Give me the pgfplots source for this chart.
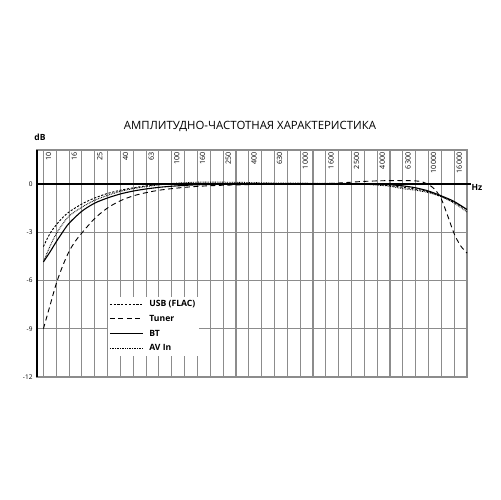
\documentclass[border=0pt]{standalone}
\usepackage{fontspec}
\setmainfont{Open Sans}
\usepackage{pgfplots}
\pgfplotsset{compat=1.18}
\begin{document}
\begin{tikzpicture}[x=1bp,y=1bp]
\path[use as bounding box] (0,0) rectangle (500,500);
\begin{axis}[
  at={(37bp,123bp)}, anchor=south west,
  scale only axis, width=430bp, height=227bp,
  xmin=-0.5, xmax=33, ymin=-12, ymax=2.1,
  xtick={0,...,33}, xticklabels={},
  ytick={-12,-9,-6,-3,0},
  yticklabel style={font=\fontsize{6.5bp}{7bp}\selectfont, xshift=-1bp},
  /pgf/number format/assume math mode=true,
  major tick length=0pt,
  xmajorgrids, ymajorgrids,
  grid style={draw=gray!90, line width=1.1bp},
  axis line style={draw=gray!90, line width=1.1bp},
  clip=false,
  legend cell align=left,
  legend style={at={(axis cs:5.0,-7.0)}, anchor=north west, draw=none, fill=white,
    font=\bfseries\fontsize{8.6bp}{9bp}\selectfont, inner sep=1.5bp, row sep=3.2bp},
  legend image code/.code={\draw[#1] (0bp,0bp) -- (33bp,0bp); \path (37bp,0bp);},
]
\draw[black, line width=1.7bp] (axis cs:-0.5,-12) -- (axis cs:-0.5,2.1);
\draw[black, line width=1.7bp] (axis cs:-0.5,0) -- (axis cs:33.3,0);
\foreach \i/\f in {0/10,2/16,4/25,6/40,8/63,10/100,12/160,14/250,16/400,18/630,20/1000,22/1600,24/2500,26/4000,28/6300,30/10000,32/16000}{
  \edef\tmp{\noexpand\node[rotate=90, anchor=east, inner sep=0pt, font=\noexpand\fontsize{7.2bp}{8bp}\noexpand\selectfont] at (axis cs:\i+0.4,1.95) {\f};}
  \tmp
}
\addplot[black, line width=0.9bp, dash pattern=on 2.2bp off 1.6bp, smooth, tension=0.5] coordinates {
(0,-3.9) (0.5,-3.1) (1,-2.55) (1.5,-2.1) (2,-1.75) (3,-1.25) (4,-0.88) (5,-0.6) (6,-0.4) (7,-0.25) (8,-0.13) (9,-0.05) (10,0.0) (12,0.03) (14,0.03) (16,0.02) (18,0.02) (20,0.02) (22,0.02) (24,0.0) (26,-0.05) (27,-0.12) (28,-0.22) (29,-0.33) (30,-0.5) (31,-0.8) (32,-1.15) (33,-1.6)};
\addlegendentry{USB (FLAC)}
\addplot[black, line width=0.9bp, dash pattern=on 5bp off 3.5bp, smooth, tension=0.5] coordinates {
(0,-9.0) (0.5,-7.6) (1,-6.2) (1.5,-5.1) (2,-4.2) (2.5,-3.55) (3,-3.05) (4,-2.15) (5,-1.5) (6,-1.05) (7,-0.75) (8,-0.55) (9,-0.4) (10,-0.3) (11,-0.22) (12,-0.16) (13,-0.12) (14,-0.09) (16,-0.05) (18,-0.02) (20,0) (22,0.02) (23,0.05) (24,0.1) (25,0.15) (26,0.18) (27,0.2) (28,0.2) (29,0.18) (29.5,0.12) (30,-0.05) (30.5,-0.35) (31,-0.95) (31.5,-2.0) (32,-3.1) (32.5,-3.85) (33,-4.3)};
\addlegendentry{Tuner}
\addplot[black, line width=1.1bp, smooth, tension=0.5] coordinates {
(0,-4.85) (0.5,-4.25) (1,-3.6) (1.5,-3.0) (2,-2.45) (3,-1.7) (4,-1.2) (5,-0.88) (6,-0.63) (7,-0.45) (8,-0.32) (9,-0.22) (10,-0.15) (11,-0.1) (12,-0.06) (14,-0.03) (16,-0.01) (18,0) (20,0) (22,0) (24,0) (26,-0.02) (27,-0.06) (28,-0.13) (29,-0.25) (30,-0.45) (31,-0.75) (32,-1.1) (33,-1.6)};
\addlegendentry{BT}
\addplot[black, line width=0.9bp, dash pattern=on 0.8bp off 0.9bp, smooth, tension=0.5] coordinates {
(0,-4.85) (0.5,-3.9) (1,-3.1) (1.5,-2.5) (2,-2.0) (3,-1.45) (4,-1.02) (5,-0.72) (6,-0.47) (7,-0.3) (8,-0.17) (9,-0.07) (10,0.02) (11,0.07) (12,0.1) (14,0.1) (16,0.08) (18,0.05) (20,0.04) (22,0.03) (24,0.02) (26,-0.08) (27,-0.15) (28,-0.3) (29,-0.4) (30,-0.55) (31,-0.8) (32,-1.2) (33,-1.75)};
\addlegendentry{AV In}
\end{axis}
\node[font=\fontsize{11.4bp}{13bp}\selectfont] at (250,374) {АМПЛИТУДНО-ЧАСТОТНАЯ ХАРАКТЕРИСТИКА};
\node[font=\bfseries\fontsize{8.5bp}{9bp}\selectfont] at (40,363) {dB};
\node[font=\bfseries\fontsize{8.5bp}{9bp}\selectfont] at (477,313) {Hz};
\end{tikzpicture}
\end{document}
